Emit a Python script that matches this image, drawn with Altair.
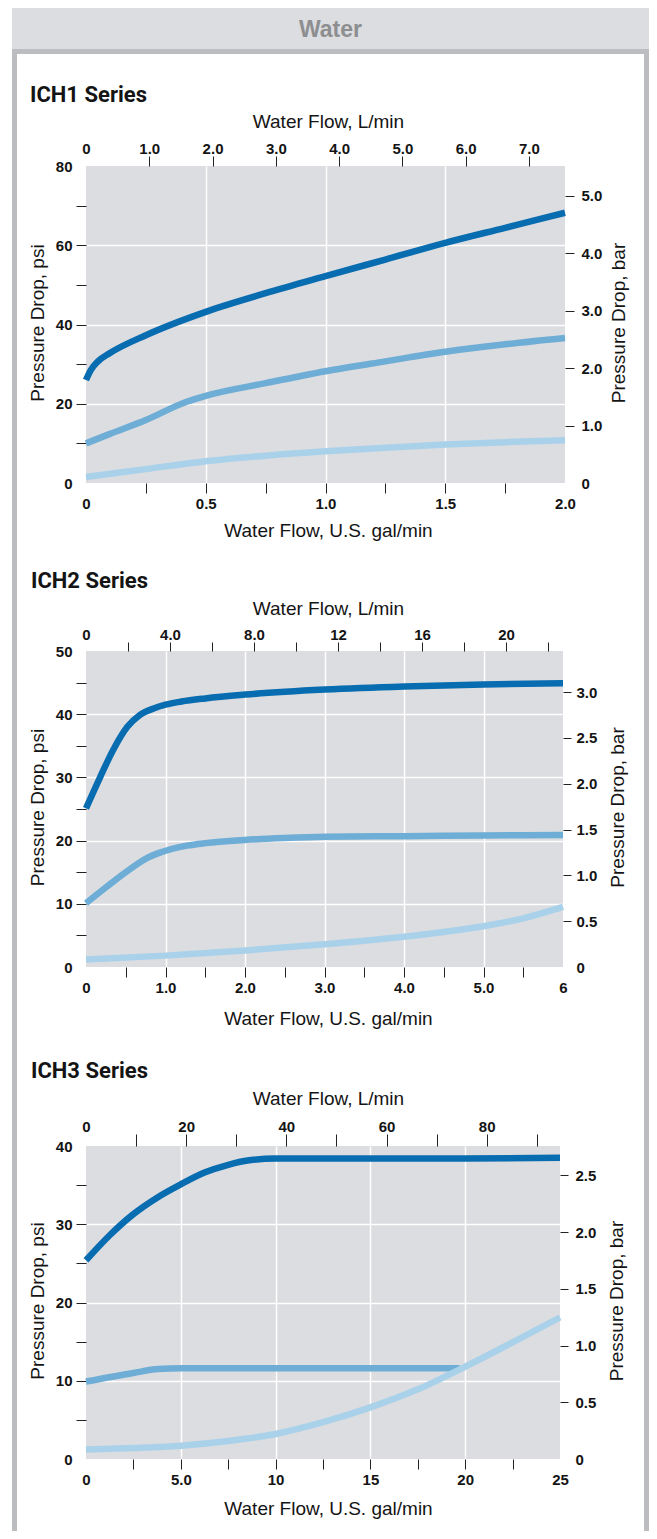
import json
import altair as alt
import pandas as pd

# ---------------- data ----------------
# ICH1 Series: x = U.S. gal/min, y = psi
ich1_flow_dark = [0, 0.02, 0.05, 0.1, 0.25, 0.5, 0.75, 1.0, 1.25, 1.5, 1.75, 2.0]
ich1_psi_dark = [26.0, 28.5, 30.7, 32.8, 37.3, 43.2, 47.9, 52.2, 56.4, 60.6, 64.4, 68.2]
ich1_flow_mid = [0, 0.1, 0.25, 0.42, 0.5, 0.75, 1.0, 1.25, 1.5, 1.75, 2.0]
ich1_psi_mid = [10.0, 12.4, 15.9, 20.5, 22.0, 25.2, 28.2, 30.7, 33.1, 35.0, 36.6]
ich1_flow_light = [0, 0.25, 0.5, 0.75, 1.0, 1.25, 1.5, 1.75, 2.0]
ich1_psi_light = [1.5, 3.5, 5.5, 6.9, 8.0, 8.9, 9.7, 10.3, 10.8]

# ICH2 Series
ich2_flow_dark = [0, 0.18, 0.34, 0.52, 0.68, 0.85, 1.0, 1.2, 1.5, 2.0, 3.0, 4.0, 5.0, 6.0]
ich2_psi_dark = [25.1, 30.1, 34.3, 38.0, 39.9, 40.9, 41.5, 42.0, 42.5, 43.1, 43.9, 44.4, 44.7, 44.9]
ich2_flow_mid = [0, 0.26, 0.51, 0.76, 0.93, 1.27, 1.5, 2.0, 2.5, 3.0, 4.0, 5.0, 6.0]
ich2_psi_mid = [10.1, 12.7, 15.1, 17.2, 18.1, 19.2, 19.6, 20.1, 20.4, 20.6, 20.7, 20.8, 20.9]
ich2_flow_light = [0, 1, 2, 3, 3.5, 4, 4.5, 5, 5.5, 6]
ich2_psi_light = [1.2, 1.8, 2.6, 3.6, 4.15, 4.8, 5.55, 6.45, 7.7, 9.5]

# ICH3 Series
ich3_flow_dark = [0, 1.25, 2.5, 3.75, 5.0, 6.25, 7.5, 8.7, 10, 15, 20, 25]
ich3_psi_dark = [25.4, 28.6, 31.3, 33.4, 35.1, 36.6, 37.6, 38.2, 38.4, 38.4, 38.4, 38.5]
ich3_flow_mid = [0, 2.5, 3.8, 5.0, 10, 15, 19.7]
ich3_psi_mid = [9.9, 11.0, 11.5, 11.6, 11.6, 11.6, 11.6]
ich3_flow_light = [0, 2.5, 5, 7.5, 10, 12.5, 15, 17.5, 20, 22.5, 25]
ich3_psi_light = [1.2, 1.4, 1.7, 2.3, 3.2, 4.7, 6.6, 8.9, 11.8, 14.9, 18.1]

# axis ranges (primary units) and unit conversions
ich1_gpm_max, ich1_psi_max = 2.0, 80
ich2_gpm_max, ich2_psi_max = 6.0, 50
ich3_gpm_max, ich3_psi_max = 25.0, 40
LPM_PER_GPM = 3.785411784
BAR_PER_PSI = 0.0689475729

# tick values and labels
ich1_bottom_ticks = [0, 0.25, 0.5, 0.75, 1.0, 1.25, 1.5, 1.75, 2.0]
ich1_bottom_labels = ["0", "", "0.5", "", "1.0", "", "1.5", "", "2.0"]
ich1_left_ticks = [0, 10, 20, 30, 40, 50, 60, 70, 80]
ich1_left_labels = ["0", "", "20", "", "40", "", "60", "", "80"]
ich1_top_ticks = [0, 1, 2, 3, 4, 5, 6, 7]
ich1_top_labels = ["0", "1.0", "2.0", "3.0", "4.0", "5.0", "6.0", "7.0"]
ich1_right_ticks = [0, 1, 2, 3, 4, 5]
ich1_right_labels = ["0", "1.0", "2.0", "3.0", "4.0", "5.0"]

ich2_bottom_ticks = [0, 0.5, 1, 1.5, 2, 2.5, 3, 3.5, 4, 4.5, 5, 5.5, 6]
ich2_bottom_labels = ["0", "", "1.0", "", "2.0", "", "3.0", "", "4.0", "", "5.0", "", "6"]
ich2_left_ticks = [0, 5, 10, 15, 20, 25, 30, 35, 40, 45, 50]
ich2_left_labels = ["0", "", "10", "", "20", "", "30", "", "40", "", "50"]
ich2_top_ticks = [0, 2, 4, 6, 8, 10, 12, 14, 16, 18, 20, 22]
ich2_top_labels = ["0", "", "4.0", "", "8.0", "", "12", "", "16", "", "20", ""]
ich2_right_ticks = [0, 0.5, 1.0, 1.5, 2.0, 2.5, 3.0]
ich2_right_labels = ["0", "0.5", "1.0", "1.5", "2.0", "2.5", "3.0"]

ich3_bottom_ticks = [0, 2.5, 5, 7.5, 10, 12.5, 15, 17.5, 20, 22.5, 25]
ich3_bottom_labels = ["0", "", "5.0", "", "10", "", "15", "", "20", "", "25"]
ich3_left_ticks = [0, 5, 10, 15, 20, 25, 30, 35, 40]
ich3_left_labels = ["0", "", "10", "", "20", "", "30", "", "40"]
ich3_top_ticks = [0, 10, 20, 30, 40, 50, 60, 70, 80, 90]
ich3_top_labels = ["0", "", "20", "", "40", "", "60", "", "80", ""]
ich3_right_ticks = [0, 0.5, 1.0, 1.5, 2.0, 2.5]
ich3_right_labels = ["0", "0.5", "1.0", "1.5", "2.0", "2.5"]

series_titles = ["ICH1 Series", "ICH2 Series", "ICH3 Series"]
header_text = "Water"

# ---------------- styles ----------------
LINE_COLORS = ["#086cb0", "#6eadd6", "#aad1ea"]
PLOT_BG = "#dcdde0"
HEADER_BG = "#dcdde0"
FRAME = "#bcbdc1"
TXT = "#141414"
LABEL_FONT = "Liberation Sans"
FRAME_L0, FRAME_L1 = -74, -69     # left frame strip (relative to plot origin x=86)
FRAME_R0, FRAME_R1 = 558, 563     # right frame strip


def make_axis(orient, title, ticks, labels, dom_max, tick_size, label_pad,
              title_x, title_y, angle, grid=False):
    hidden = [v for v in ticks if v == 0 or v == dom_max]
    grid_vals = [v for v, l in zip(ticks, labels) if l and 0 < v < dom_max] if grid else []
    kw = dict(
        orient=orient, title=title, values=ticks,
        labelExpr=f"{json.dumps(labels)}[indexof({json.dumps(ticks)}, datum.value)]",
        tickSize=tick_size, labelPadding=label_pad, tickColor="#222222", tickWidth=1,
        tickOpacity={"condition": {"test": f"indexof({json.dumps(hidden)}, datum.value) >= 0",
                                   "value": 0}, "value": 1},
        domain=False, labelFlush=False, labelOverlap=False,
        labelFont=LABEL_FONT, labelFontSize=15, labelFontWeight="bold", labelColor=TXT,
        titleFont=LABEL_FONT, titleFontSize=19, titleFontWeight="normal", titleColor=TXT,
        titleX=title_x, titleY=title_y, titleAngle=angle,
        titleAlign="center", titleBaseline="alphabetic",
    )
    if grid_vals:
        kw.update(grid=True, gridColor="#ffffff", gridWidth=1.5,
                  gridOpacity={"condition": {"test": f"indexof({json.dumps(grid_vals)}, datum.value) >= 0",
                                             "value": 1}, "value": 0})
    else:
        kw["grid"] = False
    return alt.Axis(**kw)


def rect(x, x2, y, y2, color):
    return alt.Chart(alt.Data(values=[{"k": 0}])).mark_rect(color=color).encode(
        x=alt.value(x), x2=alt.value(x2), y=alt.value(y), y2=alt.value(y2))


def text(t, x, y, size, color, font, weight, align):
    return alt.Chart(alt.Data(values=[{"k": 0}])).mark_text(
        text=t, font=font, fontSize=size, fontWeight=weight, color=color,
        align=align, baseline="alphabetic").encode(x=alt.value(x), y=alt.value(y))


def panel(title, curves, gpm_max, psi_max, ticks, geo, header=False):
    w, h = geo["w"], geo["h"]
    lpm_max = gpm_max * LPM_PER_GPM
    bar_max = psi_max * BAR_PER_PSI
    (bt, bl), (lt, ll), (tt, tl), (rt, rl) = ticks

    x_axis = make_axis("bottom", "Water Flow, U.S. gal/min", bt, bl, gpm_max, 10, 3,
                       242, geo["bottom_title_y"], 0, grid=True)
    y_axis = make_axis("left", "Pressure Drop, psi", lt, ll, psi_max, 10, 4,
                       -43, h / 2 - 2, 270, grid=True)

    layers = []
    if header:
        layers.append(rect(FRAME_L0, FRAME_R1, -158, -117, HEADER_BG))
        layers.append(rect(FRAME_L0, FRAME_R1, -117, -112, FRAME))
        layers.append(text(header_text, (FRAME_L0 + FRAME_R1) / 2, -129, 23, "#8d8e90",
                           LABEL_FONT, "bold", "center"))
    layers.append(rect(FRAME_L0, FRAME_L1, geo["frame_top"], geo["frame_bottom"], FRAME))
    layers.append(rect(FRAME_R0, FRAME_R1, geo["frame_top"], geo["frame_bottom"], FRAME))
    layers.append(text(title, geo["title_x"], geo["title_y"], 22, TXT, "Roboto", "bold", "left"))

    for i, ((fl, ps), color) in enumerate(zip(curves, LINE_COLORS)):
        df = pd.DataFrame({"flow": fl, "psi": ps})
        layers.append(
            alt.Chart(df).mark_line(color=color, strokeWidth=6.5, interpolate="monotone").encode(
                x=alt.X("flow:Q", scale=alt.Scale(domain=[0, gpm_max], nice=False, zero=False),
                        axis=x_axis if i == 0 else None),
                y=alt.Y("psi:Q", scale=alt.Scale(domain=[0, psi_max], nice=False, zero=False),
                        axis=y_axis if i == 0 else None),
            )
        )

    sec_df = pd.DataFrame({"lpm": [0, lpm_max], "bar": [0, bar_max]})
    layers.append(alt.Chart(sec_df).mark_point(opacity=0, size=1).encode(
        x=alt.X("lpm:Q", scale=alt.Scale(domain=[0, lpm_max], nice=False, zero=False),
                axis=make_axis("top", "Water Flow, L/min", tt, tl, lpm_max, geo["top_tick"], 0,
                               242, geo["top_title_y"], 0)),
        y=alt.Y("bar:Q", scale=alt.Scale(domain=[0, bar_max], nice=False, zero=False),
                axis=make_axis("right", "Pressure Drop, bar", rt, rl, bar_max, geo["right_tick"],
                               geo["right_pad"], geo["right_title_x"], h / 2 - 2, 270)),
    ))
    return alt.layer(*layers).resolve_scale(
        x="independent", y="independent").properties(width=w, height=h)


p1 = panel(series_titles[0],
           [(ich1_flow_dark, ich1_psi_dark), (ich1_flow_mid, ich1_psi_mid), (ich1_flow_light, ich1_psi_light)],
           ich1_gpm_max, ich1_psi_max,
           [(ich1_bottom_ticks, ich1_bottom_labels), (ich1_left_ticks, ich1_left_labels),
            (ich1_top_ticks, ich1_top_labels), (ich1_right_ticks, ich1_right_labels)],
           dict(w=479, h=317, title_x=-56, title_y=-64, top_tick=10, top_title_y=-39,
                bottom_title_y=53, right_tick=9, right_pad=7, right_title_x=59,
                frame_top=-117, frame_bottom=390),
           header=True)

p2 = panel(series_titles[1],
           [(ich2_flow_dark, ich2_psi_dark), (ich2_flow_mid, ich2_psi_mid), (ich2_flow_light, ich2_psi_light)],
           ich2_gpm_max, ich2_psi_max,
           [(ich2_bottom_ticks, ich2_bottom_labels), (ich2_left_ticks, ich2_left_labels),
            (ich2_top_ticks, ich2_top_labels), (ich2_right_ticks, ich2_right_labels)],
           dict(w=477, h=316, title_x=-55, title_y=-63, top_tick=9, top_title_y=-37,
                bottom_title_y=57, right_tick=8, right_pad=5, right_title_x=60,
                frame_top=-95, frame_bottom=399))

p3 = panel(series_titles[2],
           [(ich3_flow_dark, ich3_psi_dark), (ich3_flow_mid, ich3_psi_mid), (ich3_flow_light, ich3_psi_light)],
           ich3_gpm_max, ich3_psi_max,
           [(ich3_bottom_ticks, ich3_bottom_labels), (ich3_left_ticks, ich3_left_labels),
            (ich3_top_ticks, ich3_top_labels), (ich3_right_ticks, ich3_right_labels)],
           dict(w=474, h=313, title_x=-55, title_y=-68, top_tick=12, top_title_y=-42,
                bottom_title_y=55, right_tick=8, right_pad=7, right_title_x=62,
                frame_top=-96, frame_bottom=385))

chart = alt.vconcat(p1, p2, p3, spacing=0).properties(
    padding={"left": 4, "top": 0, "right": 0, "bottom": 0},
    background="white",
).configure_view(fill=PLOT_BG, strokeWidth=0)

chart.save("out.html", embed_options={"renderer": "svg", "actions": False})
